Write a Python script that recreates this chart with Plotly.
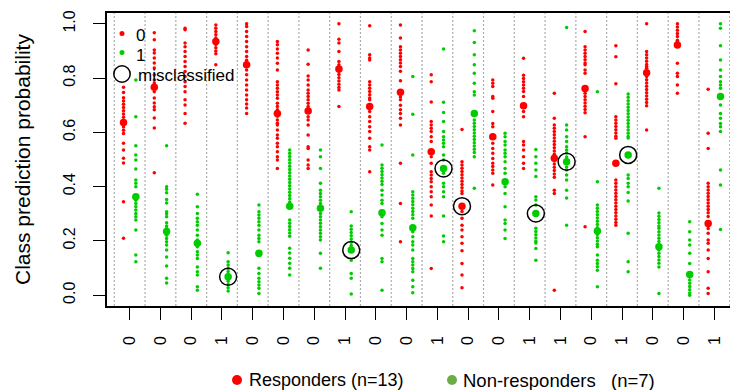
import plotly.graph_objects as go

# ---- data ----
true_class = [0, 0, 0, 1, 0, 0, 0, 1, 0, 0, 1, 0, 0, 1, 1, 0, 1, 0, 0, 1]
misclassified = [4, 8, 11, 12, 14, 15, 17]  # 1-based sample index

# class-0 (red) prediction probabilities per sample
prob_class0 = [
    [0.766, 0.747, 0.728, 0.716, 0.704, 0.692, 0.680, 0.668, 0.656, 0.644, 0.632, 0.620, 0.608, 0.596, 0.560, 0.535, 0.505, 0.487, 0.344, 0.210],
    [0.967, 0.941, 0.904, 0.893, 0.874, 0.856, 0.837, 0.812, 0.793, 0.782, 0.750, 0.727, 0.708, 0.694, 0.683, 0.653, 0.616, 0.451],
    [0.984, 0.978, 0.929, 0.916, 0.898, 0.880, 0.861, 0.843, 0.824, 0.806, 0.787, 0.769, 0.750, 0.720, 0.701, 0.670, 0.634],
    [0.996, 0.984, 0.972, 0.960, 0.948, 0.936, 0.924, 0.912, 0.900, 0.890, 0.849],
    [1.000, 0.990, 0.972, 0.953, 0.935, 0.916, 0.898, 0.880, 0.866, 0.830, 0.812, 0.793, 0.775, 0.756, 0.738, 0.720, 0.705, 0.690, 0.670],
    [0.935, 0.923, 0.907, 0.892, 0.874, 0.855, 0.830, 0.787, 0.775, 0.763, 0.750, 0.738, 0.726, 0.707, 0.695, 0.683, 0.659, 0.646, 0.634, 0.627, 0.609, 0.590, 0.578, 0.560, 0.547, 0.529, 0.510, 0.498, 0.467],
    [0.904, 0.851, 0.808, 0.793, 0.775, 0.756, 0.744, 0.732, 0.720, 0.707, 0.695, 0.658, 0.646, 0.627, 0.590, 0.547, 0.541, 0.498, 0.480, 0.467],
    [1.000, 0.943, 0.929, 0.898, 0.861, 0.849, 0.837, 0.825, 0.813, 0.801, 0.789, 0.777, 0.765, 0.756, 0.695],
    [0.993, 0.886, 0.874, 0.867, 0.787, 0.775, 0.763, 0.751, 0.739, 0.727, 0.720, 0.677, 0.658, 0.640, 0.621, 0.603, 0.578, 0.547, 0.535, 0.455],
    [0.996, 0.948, 0.916, 0.904, 0.892, 0.880, 0.868, 0.856, 0.843, 0.825, 0.790, 0.730, 0.720, 0.700, 0.683, 0.670, 0.652, 0.627, 0.486, 0.338, 0.197],
    [0.812, 0.787, 0.712, 0.640, 0.627, 0.615, 0.603, 0.584, 0.566, 0.510, 0.486, 0.455, 0.443, 0.430, 0.418, 0.400, 0.381, 0.363, 0.332, 0.292, 0.098],
    [0.611, 0.492, 0.480, 0.468, 0.456, 0.444, 0.432, 0.420, 0.408, 0.396, 0.384, 0.375, 0.308, 0.283, 0.258, 0.240, 0.215, 0.191, 0.164, 0.117, 0.074, 0.027],
    [0.793, 0.781, 0.769, 0.732, 0.726, 0.677, 0.633, 0.621, 0.560, 0.541, 0.523, 0.504, 0.486, 0.474, 0.461, 0.449, 0.406],
    [0.873, 0.811, 0.799, 0.787, 0.775, 0.763, 0.751, 0.732, 0.677, 0.658, 0.566, 0.553, 0.535, 0.510, 0.486, 0.467],
    [0.744, 0.652, 0.627, 0.615, 0.603, 0.591, 0.579, 0.567, 0.555, 0.543, 0.531, 0.519, 0.495, 0.483, 0.471, 0.459, 0.447, 0.435, 0.387, 0.375, 0.018],
    [0.972, 0.916, 0.904, 0.892, 0.880, 0.868, 0.856, 0.849, 0.830, 0.818, 0.744, 0.732, 0.720, 0.708, 0.696, 0.684, 0.672, 0.584, 0.252],
    [0.919, 0.879, 0.779, 0.658, 0.646, 0.634, 0.622, 0.610, 0.598, 0.586, 0.578, 0.424, 0.412, 0.400, 0.388, 0.376, 0.364, 0.352, 0.340, 0.328, 0.316, 0.304, 0.292, 0.280, 0.268, 0.258],
    [1.000, 0.898, 0.886, 0.874, 0.862, 0.850, 0.843, 0.836, 0.806, 0.794, 0.782, 0.770, 0.758, 0.746, 0.734, 0.722, 0.710, 0.698, 0.609],
    [1.000, 0.988, 0.976, 0.964, 0.953, 0.940, 0.934, 0.855, 0.818, 0.806, 0.775, 0.744],
    [0.759, 0.597, 0.541, 0.412, 0.400, 0.388, 0.376, 0.364, 0.352, 0.340, 0.328, 0.316, 0.304, 0.290, 0.246, 0.228, 0.203, 0.191, 0.166, 0.135, 0.086, 0.025, 0.006],
]

# class-1 (green) prediction probabilities per sample
prob_class1 = [
    [0.793, 0.658, 0.551, 0.517, 0.498, 0.465, 0.424, 0.412, 0.400, 0.350, 0.338, 0.326, 0.314, 0.301, 0.289, 0.277, 0.240, 0.148, 0.123],
    [0.551, 0.400, 0.390, 0.377, 0.353, 0.340, 0.307, 0.299, 0.289, 0.267, 0.255, 0.246, 0.221, 0.209, 0.197, 0.185, 0.166, 0.141, 0.107, 0.062, 0.045],
    [0.372, 0.326, 0.301, 0.283, 0.271, 0.258, 0.240, 0.221, 0.203, 0.178, 0.160, 0.148, 0.135, 0.104, 0.086, 0.074, 0.031, 0.018],
    [0.156, 0.123, 0.111, 0.099, 0.087, 0.075, 0.063, 0.051, 0.039, 0.027, 0.015],
    [0.332, 0.307, 0.295, 0.283, 0.271, 0.258, 0.240, 0.221, 0.209, 0.197, 0.099, 0.080, 0.062, 0.049, 0.037, 0.025, 0.006],
    [0.535, 0.523, 0.511, 0.499, 0.487, 0.475, 0.463, 0.451, 0.439, 0.427, 0.415, 0.403, 0.391, 0.379, 0.367, 0.355, 0.343, 0.277, 0.265, 0.253, 0.241, 0.229, 0.217, 0.173, 0.155, 0.136, 0.118, 0.099, 0.074],
    [0.535, 0.510, 0.467, 0.412, 0.387, 0.375, 0.363, 0.350, 0.338, 0.301, 0.289, 0.277, 0.265, 0.252, 0.240, 0.228, 0.215, 0.203, 0.154, 0.099],
    [0.307, 0.255, 0.243, 0.231, 0.219, 0.207, 0.195, 0.183, 0.171, 0.129, 0.080, 0.062, 0.004],
    [0.553, 0.480, 0.468, 0.456, 0.444, 0.432, 0.420, 0.408, 0.387, 0.369, 0.350, 0.338, 0.289, 0.264, 0.240, 0.221, 0.135, 0.123, 0.018],
    [0.806, 0.667, 0.517, 0.381, 0.369, 0.357, 0.345, 0.333, 0.320, 0.308, 0.296, 0.283, 0.234, 0.215, 0.197, 0.185, 0.166, 0.135, 0.123, 0.111, 0.098, 0.086, 0.055, 0.031, 0.009],
    [0.907, 0.711, 0.673, 0.640, 0.603, 0.584, 0.572, 0.560, 0.547, 0.517, 0.498, 0.449, 0.412, 0.400, 0.381, 0.363, 0.292, 0.218, 0.197],
    [0.975, 0.931, 0.886, 0.849, 0.818, 0.781, 0.750, 0.738, 0.646, 0.634, 0.622, 0.610, 0.598, 0.586, 0.574, 0.562, 0.550, 0.538, 0.526, 0.510, 0.394],
    [0.597, 0.584, 0.566, 0.553, 0.535, 0.523, 0.510, 0.492, 0.467, 0.449, 0.400, 0.375, 0.326, 0.277, 0.264, 0.240, 0.209],
    [0.537, 0.510, 0.486, 0.461, 0.437, 0.363, 0.351, 0.332, 0.247, 0.235, 0.223, 0.211, 0.199, 0.192, 0.172, 0.129],
    [0.987, 0.627, 0.609, 0.584, 0.566, 0.547, 0.535, 0.524, 0.509, 0.472, 0.461, 0.443, 0.424, 0.387, 0.358, 0.258],
    [0.750, 0.418, 0.332, 0.320, 0.308, 0.296, 0.284, 0.272, 0.260, 0.248, 0.224, 0.212, 0.200, 0.188, 0.178, 0.148, 0.129, 0.117, 0.105, 0.092, 0.031],
    [0.741, 0.729, 0.717, 0.705, 0.693, 0.681, 0.669, 0.657, 0.645, 0.633, 0.621, 0.609, 0.597, 0.585, 0.579, 0.443, 0.430, 0.412, 0.400, 0.378, 0.347, 0.228, 0.123, 0.086],
    [0.394, 0.303, 0.291, 0.279, 0.267, 0.255, 0.247, 0.234, 0.222, 0.210, 0.198, 0.166, 0.154, 0.142, 0.130, 0.118, 0.104, 0.006],
    [0.271, 0.234, 0.203, 0.185, 0.154, 0.117, 0.068, 0.056, 0.044, 0.032, 0.020, 0.008, 0.000],
    [1.000, 0.984, 0.919, 0.867, 0.830, 0.806, 0.787, 0.775, 0.763, 0.701, 0.670, 0.652, 0.633, 0.621, 0.603, 0.461, 0.406, 0.242],
]

mean_class0 = [0.636, 0.766, None, 0.935, 0.849, 0.670, 0.679, 0.834, 0.695, 0.748,
               0.529, 0.328, 0.584, 0.698, 0.505, 0.762, 0.486, 0.820, 0.922, 0.264]
mean_class1 = [0.363, 0.235, 0.191, 0.068, 0.154, 0.328, 0.320, 0.166, 0.304, 0.248,
               0.467, 0.670, 0.418, 0.301, 0.492, 0.236, 0.517, 0.178, 0.076, 0.732]

RED = "#FF0000"
GREEN = "#00CD00"
LEG_GREEN = "#6AAD45"
FONT = "Liberation Sans, Arial, sans-serif"
OFF = 0.2

n = len(true_class)
samples = list(range(1, n + 1))

fig = go.Figure()

# small dots
for cls, probs, col, off in [(0, prob_class0, RED, -OFF), (1, prob_class1, GREEN, OFF)]:
    xs, ys = [], []
    for i, vals in enumerate(probs):
        xs += [samples[i] + off] * len(vals)
        ys += vals
    fig.add_trace(go.Scatter(x=xs, y=ys, mode="markers",
                             marker=dict(color=col, size=3.5, line=dict(width=0)),
                             showlegend=False, hoverinfo="skip"))

# mean dots
fig.add_trace(go.Scatter(x=[s - OFF for s in samples], y=mean_class0, mode="markers",
                         marker=dict(color=RED, size=7.5, line=dict(width=0)), showlegend=False))
fig.add_trace(go.Scatter(x=[s + OFF for s in samples], y=mean_class1, mode="markers",
                         marker=dict(color=GREEN, size=7.5, line=dict(width=0)), showlegend=False))

# misclassified circles around mean of true class
cx, cy = [], []
for s in misclassified:
    i = s - 1
    if true_class[i] == 0:
        cx.append(s - OFF); cy.append(mean_class0[i])
    else:
        cx.append(s + OFF); cy.append(mean_class1[i])
fig.add_trace(go.Scatter(x=cx, y=cy, mode="markers",
                         marker=dict(symbol="circle-open", size=17, color="black", line=dict(width=1.5)),
                         showlegend=False))

shapes = []
for k in range(n + 1):
    shapes.append(dict(type="line", xref="x", yref="paper", x0=k + 0.5, x1=k + 0.5, y0=0, y1=1,
                       line=dict(color="#ababab", width=1.2, dash="2px,2px"), layer="below"))

# the page body adds an 8px offset, so the figure is 8px smaller
PAGE_OFF = 8
W, H = 738 - PAGE_OFF, 390 - PAGE_OFF
BOX_L, BOX_R, BOX_T, BOX_B = 107, 737, 13, 306   # plot box in page pixels
L = BOX_L - PAGE_OFF
T = BOX_T - PAGE_OFF
R = W - (BOX_R - PAGE_OFF)
B = H - (BOX_B - PAGE_OFF)
pw, ph = BOX_R - BOX_L, BOX_B - BOX_T

def px(xpix):
    return (xpix - BOX_L) / pw

def py(ypix):
    return (BOX_B - ypix) / ph

def dot(xpix, ypix, r, fill):
    d = dict(type="circle", xref="paper", yref="paper", xsizemode="pixel", ysizemode="pixel",
             xanchor=px(xpix), yanchor=py(ypix), x0=-r, x1=r, y0=-r, y1=r)
    if fill:
        d["fillcolor"] = fill
        d["line"] = dict(width=0)
    else:
        d["line"] = dict(color="black", width=1.5)
    return d

# inner legend
shapes.append(dot(122, 33.5, 2.5, RED))
shapes.append(dot(122, 52.5, 2.5, GREEN))
shapes.append(dot(122, 74, 8.2, None))
# bottom legend
shapes.append(dot(237, 380, 5, RED))
shapes.append(dot(452, 380, 5, LEG_GREEN))

ann = []
def text(xpix, ypix, s, size, **kw):
    ann.append(dict(xref="paper", yref="paper", x=px(xpix), y=py(ypix), text=s, showarrow=False,
                    xanchor="left", yanchor="middle", font=dict(family=FONT, size=size, color="black"), **kw))

text(134, 36, "0", 17)
text(134, 56, "1", 17)
text(136, 75, "misclassified", 17)
text(247, 380, "Responders (n=13)", 18)
text(461, 380, "Non-responders\u00a0\u00a0\u00a0(n=7)", 18.5)
ann.append(dict(xref="paper", yref="paper", x=px(22), y=py(160), text="Class prediction probability",
                showarrow=False, textangle=-90, xanchor="center", yanchor="middle",
                font=dict(family=FONT, size=21, color="black")))

fig.update_layout(
    width=W, height=H, margin=dict(l=L, r=R, t=T, b=B, autoexpand=False),
    paper_bgcolor="white", plot_bgcolor="white",
    shapes=shapes, annotations=ann, showlegend=False,
    font=dict(family=FONT, color="black"),
    xaxis=dict(range=[0.263, 20.737], tickmode="array", tickvals=samples,
               ticktext=[str(c) for c in true_class], tickangle=-90, automargin=False,
               ticks="outside", ticklen=12, tickwidth=1.3, tickcolor="black", ticklabelstandoff=10,
               showline=True, linecolor="black", linewidth=1.6, mirror=True,
               showgrid=False, zeroline=False, tickfont=dict(size=16)),
    yaxis=dict(range=[-0.04, 1.04], tickmode="array", tickvals=[0, 0.2, 0.4, 0.6, 0.8, 1.0],
               ticktext=["0.0", "0.2", "0.4", "0.6", "0.8", "1.0"], tickangle=-90, automargin=False,
               ticks="outside", ticklen=12, tickwidth=1.3, tickcolor="black", ticklabelstandoff=12,
               showline=True, linecolor="black", linewidth=1.6, mirror=True,
               showgrid=False, zeroline=False, tickfont=dict(size=16)),
)

fig.write_html("out.html")
